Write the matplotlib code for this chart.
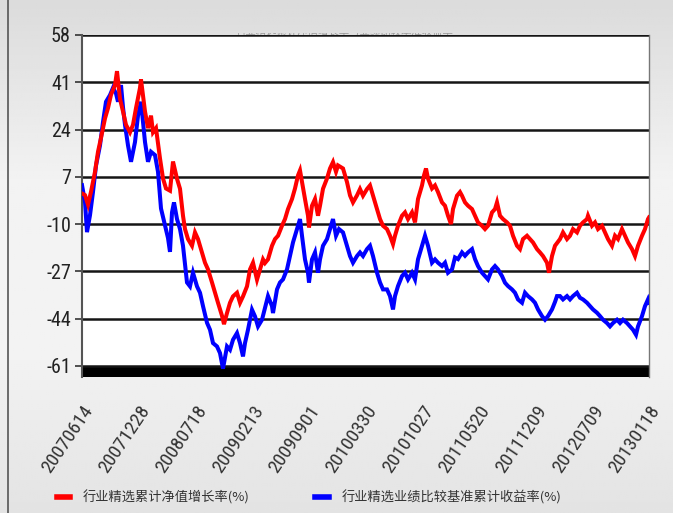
import numpy as np
import matplotlib
matplotlib.use("Agg")
import matplotlib.pyplot as plt
from matplotlib.lines import Line2D
from matplotlib.transforms import Bbox
from matplotlib import font_manager

plt.rcParams['font.family'] = ['Noto Sans CJK SC', 'DejaVu Sans']

# ---------------- data ----------------
date_labels = ["20070614", "20071228", "20080718", "20090213", "20090901",
               "20100330", "20101027", "20110520", "20111209", "20120709", "20130118"]
span = 567  # sample index span of the period
y_ticks = [58, 41, 24, 7, -10, -27, -44, -61]

red_idx = [0, 3, 6, 9, 13, 16, 19, 23, 26, 29, 33, 35, 38, 41, 44, 48, 51, 54, 58, 59,
           63, 66, 69, 71, 74, 78, 81, 84, 88, 91, 95, 98, 101, 103, 106, 110, 113, 116,
           120, 123, 126, 130, 133, 136, 140, 142, 145, 148, 151, 155, 158, 161, 165, 168,
           171, 175, 178, 181, 183, 186, 190, 193, 196, 200, 203, 206, 210, 213, 216, 218,
           220, 223, 226, 227, 230, 233, 236, 238, 241, 245, 248, 251, 254, 256, 261, 265,
           268, 271, 275, 278, 281, 285, 288, 291, 295, 298, 301, 305, 308, 311, 313, 316,
           320, 323, 326, 330, 333, 336, 340, 342, 344, 346, 350, 353, 356, 360, 363, 366,
           369, 371, 375, 378, 380, 383, 386, 390, 393, 396, 400, 403, 406, 410, 413, 415,
           418, 421, 425, 428, 431, 435, 438, 441, 445, 448, 451, 455, 458, 461, 465, 467,
           470, 473, 478, 481, 485, 488, 491, 495, 498, 501, 505, 506, 510, 513, 516, 520,
           523, 526, 530, 533, 536, 540, 543, 546, 550, 553, 556, 560, 563, 566, 567]
red_val = [1.0, 0.4, -3.0, 1.6, 8.8, 16, 21, 28, 31.7, 36.5, 40, 45, 35, 30.5, 25.7, 23, 25.7,
           31.7, 39, 42, 30.5, 24.5, 29, 23, 24.5, 13.6, 6.4, 2.8, 2, 12.5, 6.3, 2.7, -7, -11.8,
           -15.4, -17.8, -13, -15.4, -20.2, -23.9, -26.3, -31, -34.7, -38.3, -43, -46, -42,
           -38.3, -36, -34.7, -38.3, -36, -32.4, -26.3, -23.9, -30, -26.3, -22.7, -24, -22.7,
           -17.8, -15.4, -14.2, -10.6, -8.2, -4.6, -1, 2.8, 7.5, 9.3, 5.1, -1, -7, -11.2, -3.4,
           -1, -7, -3.4, 2.7, 6.4, 10, 12.3, 8.8, 11.1, 10, 5.1, 0.3, -2.2, 0.3, 2.6, 0.2, 2.6,
           3.9, 0.2, -4.6, -8.2, -10.6, -11.8, -14.2, -17.2, -14.2, -10.6, -7, -5.8, -8.2, -5.8,
           -9.4, -1, 3.9, 7.5, 10, 6.4, 2.8, 3.9, 1.5, -2.2, -3.4, -7, -10, -4.6, 0.2, 1.5, 0.2,
           -2.2, -3.4, -4.6, -7, -9.4, -10.6, -11.8, -10.6, -5.8, -4.6, -2.2, -7, -8.2, -9.4,
           -10.6, -14.2, -17.8, -19, -15.4, -14.2, -15.4, -16.6, -19, -20.2, -21.5, -23.9,
           -27.5, -21.5, -17.8, -15.4, -13, -15.4, -14.2, -11.8, -13, -10.6, -9.4, -8.2, -7,
           -10.6, -9.4, -11.8, -10.6, -13, -15.4, -17.8, -14.2, -15.4, -11.8, -14.2, -16.6,
           -19, -21.5, -17.8, -14.2, -11.8, -8.2, -7.6]

blue_idx = [0, 3, 5, 8, 11, 14, 18, 21, 24, 28, 31, 34, 36, 39, 41, 43, 46, 49, 53, 56, 59,
            63, 66, 69, 73, 76, 79, 83, 86, 88, 90, 92, 95, 98, 101, 105, 108, 111, 115, 118,
            121, 125, 128, 131, 135, 138, 141, 145, 148, 151, 155, 158, 161, 163, 166, 170,
            173, 176, 180, 183, 186, 190, 191, 195, 198, 201, 205, 208, 211, 215, 218, 220,
            223, 226, 227, 230, 233, 236, 238, 241, 245, 248, 251, 254, 257, 261, 265, 268,
            271, 275, 278, 281, 285, 288, 291, 295, 298, 301, 305, 308, 311, 313, 316, 320,
            323, 326, 330, 333, 336, 340, 343, 346, 350, 353, 356, 360, 363, 366, 370, 373,
            376, 380, 383, 386, 390, 393, 396, 400, 403, 406, 410, 413, 416, 420, 423, 426,
            430, 433, 436, 440, 443, 446, 450, 453, 456, 460, 463, 466, 470, 473, 475, 478,
            481, 485, 488, 491, 495, 498, 501, 505, 508, 511, 515, 518, 521, 525, 528, 531,
            535, 538, 541, 545, 548, 551, 554, 556, 560, 563, 566, 567]
blue_val = [4, -2, -12.9, -6.8, 1.6, 11, 18.3, 26.7, 34, 36.4, 39, 37, 34, 40, 32, 25.7, 18.3,
            12.4, 19.5, 29, 34, 19.5, 12.4, 16, 14.8, 8.8, -4.4, -10.5, -15, -20, -5.8, -2.2,
            -8.2, -11.8, -17.8, -31, -32.4, -27.5, -32.4, -34.7, -39.5, -45.5, -48, -52.8, -54,
            -56.4, -62, -54, -55.2, -51.6, -49.2, -52.8, -57.6, -52.8, -48, -40.8, -43.2, -46.8,
            -44.4, -40.2, -35.9, -39.5, -42, -33.5, -31, -29.9, -26.3, -21.5, -16.6, -11.8,
            -8.2, -14.2, -22.7, -27.5, -31, -22.7, -20.2, -27.5, -22.7, -17.8, -15.4, -11.8,
            -8.2, -14.2, -11.8, -13, -17.8, -21.5, -23.9, -21.5, -20.2, -21.5, -19, -17.8,
            -21.5, -27.5, -31, -33.5, -33.5, -35.9, -40.7, -35.9, -32.3, -28.7, -27.5, -29.9,
            -27.5, -29.9, -22.7, -17.8, -14.2, -17.8, -23.9, -22.7, -23.9, -25.1, -23.9, -27.5,
            -26.3, -22, -22.6, -20.2, -21.4, -20.2, -19, -22.6, -25.1, -27.5, -28.7, -29.9,
            -26.3, -25.1, -26.3, -28.7, -31.1, -32.3, -33.5, -34.7, -37.1, -38.3, -34.7, -35.9,
            -37.1, -38.3, -40.7, -43.1, -44.4, -43.1, -40.7, -38, -35.9, -35.9, -37.1, -35.9,
            -37.1, -35.9, -34.7, -36.5, -37.1, -38.3, -39.5, -40.7, -41.9, -43.1, -44.4, -45.6,
            -46.8, -45.6, -44.4, -45.6, -44.4, -45.6, -46.8, -48, -49.8, -46.8, -43.1, -39.5,
            -37.1, -38.3]

red_label = "行业精选累计净值增长率(%)"
blue_label = "行业精选业绩比较基准累计收益率(%)"
title_text = "行业精选累计净值增长率与业绩比较基准收益率"

# ---------------- figure ----------------
W, H = 673, 513
fig = plt.figure(figsize=(W / 100, H / 100), dpi=100)

# background gradient
bg = fig.add_axes([0, 0, 1, 1], zorder=-10)
grad_pos = [0.0, 0.35, 0.7, 1.0]
grad_col = [0.86, 0.95, 0.95, 0.89]
yy = np.linspace(0, 1, 256)
g = np.interp(yy, grad_pos, grad_col)
img = np.repeat(g[:, None], 4, axis=1)
bg.imshow(img, cmap='gray', vmin=0, vmax=1, aspect='auto', extent=[0, 1, 1, 0])
bg.set_xlim(0, 1); bg.set_ylim(1, 0)
bg.axis('off')
fig.add_artist(Line2D([8 / W, 8 / W], [0, 1], color='#555555', lw=1.2,
                      transform=fig.transFigure))

# narrow font for ticks if one is installed
tick_family = 'Liberation Sans'
tick_stretch = 'normal'
names = {f.name for f in font_manager.fontManager.ttflist}
for cand in ['Liberation Sans Narrow', 'Arial Narrow', 'Roboto Condensed', 'Open Sans Condensed']:
    if cand in names:
        tick_family = cand
        break
else:
    for f in font_manager.fontManager.ttflist:
        if f.name in ('DejaVu Sans', 'Open Sans', 'Noto Sans') and f.stretch in ('condensed', 'semi-condensed'):
            tick_family = f.name
            tick_stretch = f.stretch
            break

# faint clipped title (mostly hidden, as in the reference)
t = fig.text(345 / W, 1 - 37 / H, title_text, ha='center', va='bottom', fontsize=7.5,
             color='#999999', zorder=-5)
t.set_clip_box(Bbox.from_extents(220, H - 35, 470, H - 33))
t.set_clip_on(True)

ax = fig.add_axes([82 / W, 1 - 377 / H, (649 - 82) / W, (377 - 35) / H])
ax.set_xlim(0, span)
ax.set_ylim(-65, 58)
ax.axhspan(-65, y_ticks[-1], color='black', zorder=1, lw=0)
for yt in y_ticks:
    ax.axhline(yt, color='#151515', lw=1.8, zorder=2)

ax.plot(blue_idx, blue_val, color='#0000ff', lw=2.9, zorder=3, solid_joinstyle='miter')
ax.plot(red_idx, red_val, color='#ff0000', lw=2.9, zorder=4, solid_joinstyle='miter')

for s in ['top', 'bottom']:
    ax.spines[s].set_visible(False)
ax.spines['left'].set_color('#555555')
ax.spines['left'].set_linewidth(1.5)
ax.spines['right'].set_color('#777777')
ax.spines['right'].set_linewidth(1.0)

ax.set_yticks(y_ticks)
ax.set_yticklabels([str(v) for v in y_ticks], family=tick_family, stretch=tick_stretch,
                   fontsize=14.5, color='#222222')
ax.tick_params(axis='y', length=5, width=1.2, color='#333333', pad=3)

xt = np.linspace(0, span, len(date_labels))
ax.set_xticks(xt)
ax.set_xticklabels(date_labels, rotation=56, ha='right', va='top', rotation_mode='anchor',
                   family=tick_family, stretch=tick_stretch, fontsize=14, color='#333333')
ax.tick_params(axis='x', length=0, pad=18)

handles = [Line2D([], [], color='#ff0000', lw=4), Line2D([], [], color='#0000ff', lw=4)]
leg = fig.legend(handles, [red_label, blue_label], loc='center left',
                 bbox_to_anchor=(45 / W, 1 - 497 / H), ncol=2, frameon=False,
                 handlelength=1.0, handletextpad=0.95, columnspacing=5.0,
                 prop={'family': ['Noto Sans CJK SC', 'DejaVu Sans'], 'size': 9.5})
for txt in leg.get_texts():
    txt.set_color('#333333')

fig.savefig('out.png', dpi=100)
